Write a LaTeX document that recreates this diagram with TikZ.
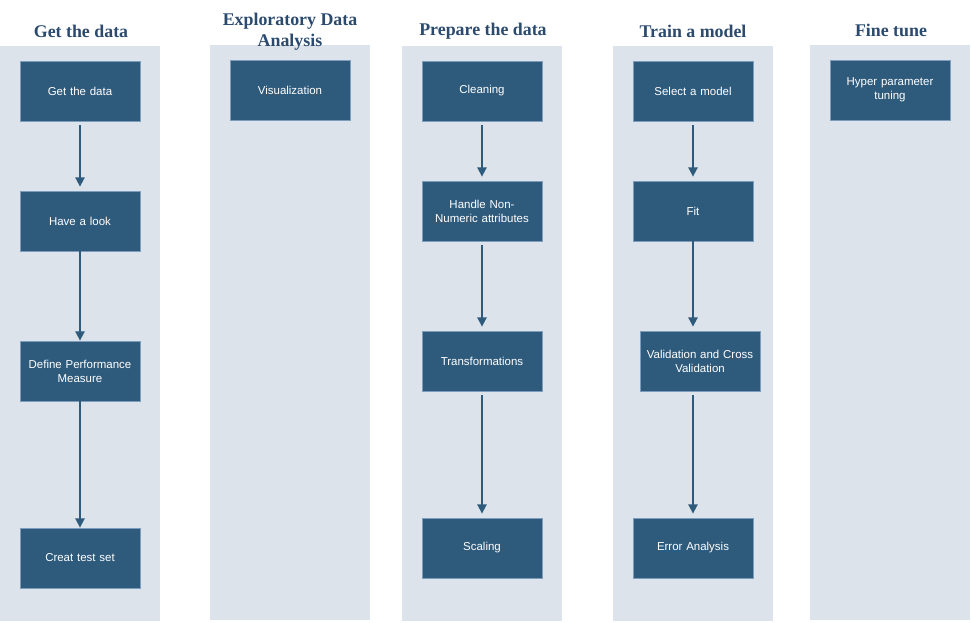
\documentclass[tikz,border=0pt]{standalone}
\usepackage{fontspec}
\setmainfont{Liberation Serif}
\setsansfont{Liberation Sans}
\usetikzlibrary{arrows.meta}
\definecolor{colbg}{HTML}{DCE3EA}
\definecolor{boxfill}{HTML}{2E5A7C}
\definecolor{boxline}{HTML}{7C9DBE}
\definecolor{headc}{HTML}{2B4A6E}
\tikzset{
  lane/.style={fill=colbg, draw=none},
  stepbox/.style={draw=boxline, line width=0.6pt, fill=boxfill, minimum width=90pt, minimum height=45pt, inner sep=0pt, text=white, font=\sffamily\fontsize{8.6}{10.5}\selectfont, align=center, text width=86pt},
  head/.style={text=headc, font=\bfseries\fontsize{13.4}{15.75}\selectfont, align=center},
  flow/.style={draw=boxfill, line width=1.3pt, -{Triangle[length=7pt,width=7pt]}}
}
\begin{document}
\begin{tikzpicture}[x=0.75pt,y=-0.75pt]
\useasboundingbox (0,0) rectangle (971,622);
% lanes
\fill[lane] (0,46) rectangle (160,621);
\fill[lane] (210,45) rectangle (370,620);
\fill[lane] (402,46) rectangle (562,621);
\fill[lane] (613,46) rectangle (773,621);
\fill[lane] (810,45) rectangle (970,620);
% headers
\node[head] (h1) at (81,31) {Get the data};
\node[head] (h2) at (290,31.5) {Exploratory Data\\Analysis};
\node[head] (h3) at (483,31) {Prepare the data};
\node[head] (h4) at (693,31) {Train a model};
\node[head] (h5) at (891,30) {Fine tune};
% column 1
\node[stepbox] (a1) at (80,91) {Get the data};
\node[stepbox] (a2) at (80,221) {Have a look};
\node[stepbox] (a3) at (80,371) {Define Performance\\Measure};
\node[stepbox] (a4) at (80,558) {Creat test set};
% column 2
\node[stepbox] (b1) at (290,90) {Visualization};
% column 3
\node[stepbox] (c1) at (482,91) {Cleaning};
\node[stepbox] (c2) at (482,211) {Handle Non-\\Numeric attributes};
\node[stepbox] (c3) at (482,361) {Transformations};
\node[stepbox] (c4) at (482,548) {Scaling};
% column 4
\node[stepbox] (d1) at (693,91) {Select a model};
\node[stepbox] (d2) at (693,211) {Fit};
\node[stepbox] (d3) at (700,361) {Validation and Cross\\Validation};
\node[stepbox] (d4) at (693,548) {Error Analysis};
% column 5
\node[stepbox] (e1) at (890,90) {Hyper parameter\\tuning};
% arrows
\draw[flow, shorten <=3pt, shorten >=3pt] (a1.south) -- (a2.north);
\draw[flow] (a2.south) -- (a3.north);
\draw[flow] (a3.south) -- (a4.north);
\draw[flow, shorten <=3pt, shorten >=3pt] (c1.south) -- (c2.north);
\draw[flow, shorten <=3pt, shorten >=3pt] (c2.south) -- (c3.north);
\draw[flow, shorten <=3pt, shorten >=3pt] (c3.south) -- (c4.north);
\draw[flow, shorten <=3pt, shorten >=3pt] (d1.south) -- (d2.north);
\draw[flow, shorten <=0pt, shorten >=3pt] (d2.south) -- (d2.south |- d3.north);
\draw[flow, shorten <=3pt, shorten >=3pt] (d2.south |- d3.south) -- (d4.north);
\end{tikzpicture}
\end{document}
